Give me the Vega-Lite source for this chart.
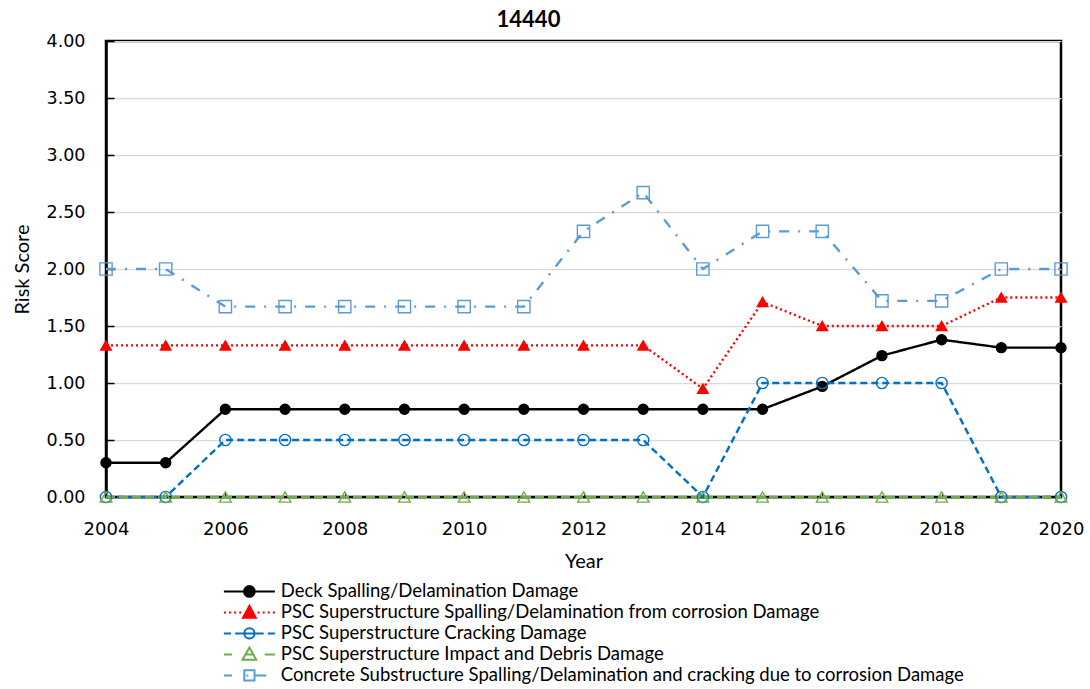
{
  "$schema": "https://vega.github.io/schema/vega-lite/v6.json",
  "width": 955,
  "height": 456,
  "autosize": {"type": "none"},
  "padding": {"left": 106, "top": 41, "right": 29, "bottom": 192},
  "background": "white",
  "title": {"text": "14440", "font": "Lato", "fontSize": 22, "fontWeight": "bold", "color": "black", "anchor": "middle", "dx": -55, "offset": 0},
  "config": {
    "view": {"stroke": "black", "strokeWidth": 2.5},
    "axis": {"labelColor": "black", "titleColor": "black", "titleFontWeight": "normal", "titleFont": "Lato", "titleFontSize": 20, "labelFont": "DejaVu Sans", "labelFontSize": 17.5, "domainColor": "black", "tickColor": "black"},
    "legend": {"orient": "none", "legendX": 131.9, "legendY": 538.9, "labelFont": "Lato", "labelFontSize": 18.5, "labelColor": "black", "labelLimit": 0, "symbolOpacity": 1, "symbolSize": 408, "symbolStrokeWidth": 2, "labelOffset": 19.9, "rowPadding": 0, "title": null}
  },
  "data": {"values": [
    {"Year": 2004, "Series": "Deck Spalling/Delamination Damage", "Risk": 0.30},
    {"Year": 2005, "Series": "Deck Spalling/Delamination Damage", "Risk": 0.30},
    {"Year": 2006, "Series": "Deck Spalling/Delamination Damage", "Risk": 0.77},
    {"Year": 2007, "Series": "Deck Spalling/Delamination Damage", "Risk": 0.77},
    {"Year": 2008, "Series": "Deck Spalling/Delamination Damage", "Risk": 0.77},
    {"Year": 2009, "Series": "Deck Spalling/Delamination Damage", "Risk": 0.77},
    {"Year": 2010, "Series": "Deck Spalling/Delamination Damage", "Risk": 0.77},
    {"Year": 2011, "Series": "Deck Spalling/Delamination Damage", "Risk": 0.77},
    {"Year": 2012, "Series": "Deck Spalling/Delamination Damage", "Risk": 0.77},
    {"Year": 2013, "Series": "Deck Spalling/Delamination Damage", "Risk": 0.77},
    {"Year": 2014, "Series": "Deck Spalling/Delamination Damage", "Risk": 0.77},
    {"Year": 2015, "Series": "Deck Spalling/Delamination Damage", "Risk": 0.77},
    {"Year": 2016, "Series": "Deck Spalling/Delamination Damage", "Risk": 0.97},
    {"Year": 2017, "Series": "Deck Spalling/Delamination Damage", "Risk": 1.24},
    {"Year": 2018, "Series": "Deck Spalling/Delamination Damage", "Risk": 1.38},
    {"Year": 2019, "Series": "Deck Spalling/Delamination Damage", "Risk": 1.31},
    {"Year": 2020, "Series": "Deck Spalling/Delamination Damage", "Risk": 1.31},
    {"Year": 2004, "Series": "PSC Superstructure Spalling/Delamination from corrosion Damage", "Risk": 1.33},
    {"Year": 2005, "Series": "PSC Superstructure Spalling/Delamination from corrosion Damage", "Risk": 1.33},
    {"Year": 2006, "Series": "PSC Superstructure Spalling/Delamination from corrosion Damage", "Risk": 1.33},
    {"Year": 2007, "Series": "PSC Superstructure Spalling/Delamination from corrosion Damage", "Risk": 1.33},
    {"Year": 2008, "Series": "PSC Superstructure Spalling/Delamination from corrosion Damage", "Risk": 1.33},
    {"Year": 2009, "Series": "PSC Superstructure Spalling/Delamination from corrosion Damage", "Risk": 1.33},
    {"Year": 2010, "Series": "PSC Superstructure Spalling/Delamination from corrosion Damage", "Risk": 1.33},
    {"Year": 2011, "Series": "PSC Superstructure Spalling/Delamination from corrosion Damage", "Risk": 1.33},
    {"Year": 2012, "Series": "PSC Superstructure Spalling/Delamination from corrosion Damage", "Risk": 1.33},
    {"Year": 2013, "Series": "PSC Superstructure Spalling/Delamination from corrosion Damage", "Risk": 1.33},
    {"Year": 2014, "Series": "PSC Superstructure Spalling/Delamination from corrosion Damage", "Risk": 0.95},
    {"Year": 2015, "Series": "PSC Superstructure Spalling/Delamination from corrosion Damage", "Risk": 1.71},
    {"Year": 2016, "Series": "PSC Superstructure Spalling/Delamination from corrosion Damage", "Risk": 1.50},
    {"Year": 2017, "Series": "PSC Superstructure Spalling/Delamination from corrosion Damage", "Risk": 1.50},
    {"Year": 2018, "Series": "PSC Superstructure Spalling/Delamination from corrosion Damage", "Risk": 1.50},
    {"Year": 2019, "Series": "PSC Superstructure Spalling/Delamination from corrosion Damage", "Risk": 1.75},
    {"Year": 2020, "Series": "PSC Superstructure Spalling/Delamination from corrosion Damage", "Risk": 1.75},
    {"Year": 2004, "Series": "PSC Superstructure Cracking Damage", "Risk": 0},
    {"Year": 2005, "Series": "PSC Superstructure Cracking Damage", "Risk": 0},
    {"Year": 2006, "Series": "PSC Superstructure Cracking Damage", "Risk": 0.5},
    {"Year": 2007, "Series": "PSC Superstructure Cracking Damage", "Risk": 0.5},
    {"Year": 2008, "Series": "PSC Superstructure Cracking Damage", "Risk": 0.5},
    {"Year": 2009, "Series": "PSC Superstructure Cracking Damage", "Risk": 0.5},
    {"Year": 2010, "Series": "PSC Superstructure Cracking Damage", "Risk": 0.5},
    {"Year": 2011, "Series": "PSC Superstructure Cracking Damage", "Risk": 0.5},
    {"Year": 2012, "Series": "PSC Superstructure Cracking Damage", "Risk": 0.5},
    {"Year": 2013, "Series": "PSC Superstructure Cracking Damage", "Risk": 0.5},
    {"Year": 2014, "Series": "PSC Superstructure Cracking Damage", "Risk": 0},
    {"Year": 2015, "Series": "PSC Superstructure Cracking Damage", "Risk": 1.0},
    {"Year": 2016, "Series": "PSC Superstructure Cracking Damage", "Risk": 1.0},
    {"Year": 2017, "Series": "PSC Superstructure Cracking Damage", "Risk": 1.0},
    {"Year": 2018, "Series": "PSC Superstructure Cracking Damage", "Risk": 1.0},
    {"Year": 2019, "Series": "PSC Superstructure Cracking Damage", "Risk": 0},
    {"Year": 2020, "Series": "PSC Superstructure Cracking Damage", "Risk": 0},
    {"Year": 2004, "Series": "PSC Superstructure Impact and Debris Damage", "Risk": 0},
    {"Year": 2005, "Series": "PSC Superstructure Impact and Debris Damage", "Risk": 0},
    {"Year": 2006, "Series": "PSC Superstructure Impact and Debris Damage", "Risk": 0},
    {"Year": 2007, "Series": "PSC Superstructure Impact and Debris Damage", "Risk": 0},
    {"Year": 2008, "Series": "PSC Superstructure Impact and Debris Damage", "Risk": 0},
    {"Year": 2009, "Series": "PSC Superstructure Impact and Debris Damage", "Risk": 0},
    {"Year": 2010, "Series": "PSC Superstructure Impact and Debris Damage", "Risk": 0},
    {"Year": 2011, "Series": "PSC Superstructure Impact and Debris Damage", "Risk": 0},
    {"Year": 2012, "Series": "PSC Superstructure Impact and Debris Damage", "Risk": 0},
    {"Year": 2013, "Series": "PSC Superstructure Impact and Debris Damage", "Risk": 0},
    {"Year": 2014, "Series": "PSC Superstructure Impact and Debris Damage", "Risk": 0},
    {"Year": 2015, "Series": "PSC Superstructure Impact and Debris Damage", "Risk": 0},
    {"Year": 2016, "Series": "PSC Superstructure Impact and Debris Damage", "Risk": 0},
    {"Year": 2017, "Series": "PSC Superstructure Impact and Debris Damage", "Risk": 0},
    {"Year": 2018, "Series": "PSC Superstructure Impact and Debris Damage", "Risk": 0},
    {"Year": 2019, "Series": "PSC Superstructure Impact and Debris Damage", "Risk": 0},
    {"Year": 2020, "Series": "PSC Superstructure Impact and Debris Damage", "Risk": 0},
    {"Year": 2004, "Series": "Concrete Substructure Spalling/Delamination and cracking due to corrosion Damage", "Risk": 2.0},
    {"Year": 2005, "Series": "Concrete Substructure Spalling/Delamination and cracking due to corrosion Damage", "Risk": 2.0},
    {"Year": 2006, "Series": "Concrete Substructure Spalling/Delamination and cracking due to corrosion Damage", "Risk": 1.67},
    {"Year": 2007, "Series": "Concrete Substructure Spalling/Delamination and cracking due to corrosion Damage", "Risk": 1.67},
    {"Year": 2008, "Series": "Concrete Substructure Spalling/Delamination and cracking due to corrosion Damage", "Risk": 1.67},
    {"Year": 2009, "Series": "Concrete Substructure Spalling/Delamination and cracking due to corrosion Damage", "Risk": 1.67},
    {"Year": 2010, "Series": "Concrete Substructure Spalling/Delamination and cracking due to corrosion Damage", "Risk": 1.67},
    {"Year": 2011, "Series": "Concrete Substructure Spalling/Delamination and cracking due to corrosion Damage", "Risk": 1.67},
    {"Year": 2012, "Series": "Concrete Substructure Spalling/Delamination and cracking due to corrosion Damage", "Risk": 2.33},
    {"Year": 2013, "Series": "Concrete Substructure Spalling/Delamination and cracking due to corrosion Damage", "Risk": 2.67},
    {"Year": 2014, "Series": "Concrete Substructure Spalling/Delamination and cracking due to corrosion Damage", "Risk": 2.0},
    {"Year": 2015, "Series": "Concrete Substructure Spalling/Delamination and cracking due to corrosion Damage", "Risk": 2.33},
    {"Year": 2016, "Series": "Concrete Substructure Spalling/Delamination and cracking due to corrosion Damage", "Risk": 2.33},
    {"Year": 2017, "Series": "Concrete Substructure Spalling/Delamination and cracking due to corrosion Damage", "Risk": 1.72},
    {"Year": 2018, "Series": "Concrete Substructure Spalling/Delamination and cracking due to corrosion Damage", "Risk": 1.72},
    {"Year": 2019, "Series": "Concrete Substructure Spalling/Delamination and cracking due to corrosion Damage", "Risk": 2.0},
    {"Year": 2020, "Series": "Concrete Substructure Spalling/Delamination and cracking due to corrosion Damage", "Risk": 2.0}
  ]},
  "encoding": {
    "x": {"field": "Year", "type": "quantitative", "scale": {"domain": [2004, 2020], "nice": false, "zero": false},
      "axis": {"values": [2004, 2006, 2008, 2010, 2012, 2014, 2016, 2018, 2020], "format": "d", "grid": false, "title": "Year", "domainWidth": 1.5, "tickSize": -5, "tickWidth": 1, "labelPadding": 28, "labelFlush": false, "titlePadding": 13, "labelFontSize": 18}},
    "y": {"field": "Risk", "type": "quantitative", "scale": {"domain": [0, 4], "nice": false},
      "axis": {"values": [0, 0.5, 1, 1.5, 2, 2.5, 3, 3.5, 4], "format": ".2f", "grid": true, "gridColor": "#d9d9d9", "gridWidth": 1.25, "title": "Risk Score", "domainWidth": 2.5, "tickSize": -8, "tickWidth": 1.5, "labelPadding": 29, "labelFlush": false, "titlePadding": 14}}
  },
  "layer": [
    {
      "mark": {"type": "line", "strokeWidth": 2.4, "clip": false},
      "encoding": {
        "stroke": {"field": "Series", "type": "nominal", "legend": null,
          "scale": {"domain": ["Deck Spalling/Delamination Damage", "PSC Superstructure Spalling/Delamination from corrosion Damage", "PSC Superstructure Cracking Damage", "PSC Superstructure Impact and Debris Damage", "Concrete Substructure Spalling/Delamination and cracking due to corrosion Damage"],
            "range": ["#000000", "#FF0000", "#0070C0", "#70AD47", "#5B9BD5"]}},
        "strokeDash": {"field": "Series", "type": "nominal", "legend": null,
          "scale": {"domain": ["Deck Spalling/Delamination Damage", "PSC Superstructure Spalling/Delamination from corrosion Damage", "PSC Superstructure Cracking Damage", "PSC Superstructure Impact and Debris Damage", "Concrete Substructure Spalling/Delamination and cracking due to corrosion Damage"],
            "range": [[1, 0], [2, 3], [7, 4], [9, 4], [10, 9, 2, 9]]}}
      }
    },
    {
      "mark": {"type": "point", "filled": true, "opacity": 1, "strokeWidth": 1.4, "clip": false},
      "encoding": {
        "stroke": {"field": "Series", "type": "nominal", "legend": null,
          "scale": {"domain": ["Deck Spalling/Delamination Damage", "PSC Superstructure Spalling/Delamination from corrosion Damage", "PSC Superstructure Cracking Damage", "PSC Superstructure Impact and Debris Damage", "Concrete Substructure Spalling/Delamination and cracking due to corrosion Damage"],
            "range": ["#000000", "#FF0000", "#0070C0", "#70AD47", "#5B9BD5"]}},
        "fill": {"field": "Series", "type": "nominal", "legend": null,
          "scale": {"domain": ["Deck Spalling/Delamination Damage", "PSC Superstructure Spalling/Delamination from corrosion Damage", "PSC Superstructure Cracking Damage", "PSC Superstructure Impact and Debris Damage", "Concrete Substructure Spalling/Delamination and cracking due to corrosion Damage"],
            "range": ["#000000", "#FF0000", "transparent", "transparent", "transparent"]}},
        "shape": {"field": "Series", "type": "nominal", "legend": null,
          "scale": {"domain": ["Deck Spalling/Delamination Damage", "PSC Superstructure Spalling/Delamination from corrosion Damage", "PSC Superstructure Cracking Damage", "PSC Superstructure Impact and Debris Damage", "Concrete Substructure Spalling/Delamination and cracking due to corrosion Damage"],
            "range": ["circle", "triangle-up", "circle", "triangle-up", "square"]}},
        "size": {"field": "Series", "type": "ordinal", "legend": null,
          "scale": {"domain": ["Deck Spalling/Delamination Damage", "PSC Superstructure Spalling/Delamination from corrosion Damage", "PSC Superstructure Cracking Damage", "PSC Superstructure Impact and Debris Damage", "Concrete Substructure Spalling/Delamination and cracking due to corrosion Damage"],
            "range": [100, 150, 110, 110, 110]}}
      }
    },
    {
      "mark": {"type": "point", "filled": true, "opacity": 0, "size": 408, "strokeWidth": 2, "clip": false},
      "encoding": {
        "stroke": {"field": "Series", "type": "nominal", "title": null,
          "scale": {"domain": ["Deck Spalling/Delamination Damage", "PSC Superstructure Spalling/Delamination from corrosion Damage", "PSC Superstructure Cracking Damage", "PSC Superstructure Impact and Debris Damage", "Concrete Substructure Spalling/Delamination and cracking due to corrosion Damage"],
            "range": ["#000000", "#FF0000", "#0070C0", "#70AD47", "#5B9BD5"]}},
        "fill": {"field": "Series", "type": "nominal", "title": null,
          "scale": {"domain": ["Deck Spalling/Delamination Damage", "PSC Superstructure Spalling/Delamination from corrosion Damage", "PSC Superstructure Cracking Damage", "PSC Superstructure Impact and Debris Damage", "Concrete Substructure Spalling/Delamination and cracking due to corrosion Damage"],
            "range": ["#000000", "#FF0000", "transparent", "transparent", "transparent"]}},
        "shape": {"field": "Series", "type": "nominal", "title": null,
          "scale": {"domain": ["Deck Spalling/Delamination Damage", "PSC Superstructure Spalling/Delamination from corrosion Damage", "PSC Superstructure Cracking Damage", "PSC Superstructure Impact and Debris Damage", "Concrete Substructure Spalling/Delamination and cracking due to corrosion Damage"],
            "range": [
              "M-2.524,0H2.524M-0.53,0A0.53,0.53,0,1,0,0.53,0A0.53,0.53,0,1,0,-0.53,0Z",
              "M-2.524,0H-2.322M-2.019,0H-1.817M-1.515,0H-1.313M-1.009,0H-0.808M0.808,0H1.009M1.313,0H1.515M1.817,0H2.019M2.322,0H2.524M0,-0.656L0.631,0.53L-0.631,0.53Z",
              "M-2.524,0H-1.817M-1.413,0H1.413M1.817,0H2.524M-0.505,0A0.505,0.505,0,1,0,0.505,0A0.505,0.505,0,1,0,-0.505,0Z",
              "M-2.524,0H-1.717M1.515,0H2.524M-0.378,0H0.378M0,-0.681L0.681,0.53L-0.681,0.53Z",
              "M-2.524,0H-1.717M-0.303,0H-0.1M0.505,0H1.666M-0.505,-0.505H0.505V0.505H-0.505Z"
            ]}}
      }
    }
  ],
  "resolve": {"scale": {"stroke": "independent", "fill": "independent", "shape": "independent", "size": "independent", "strokeDash": "independent"}}
}
